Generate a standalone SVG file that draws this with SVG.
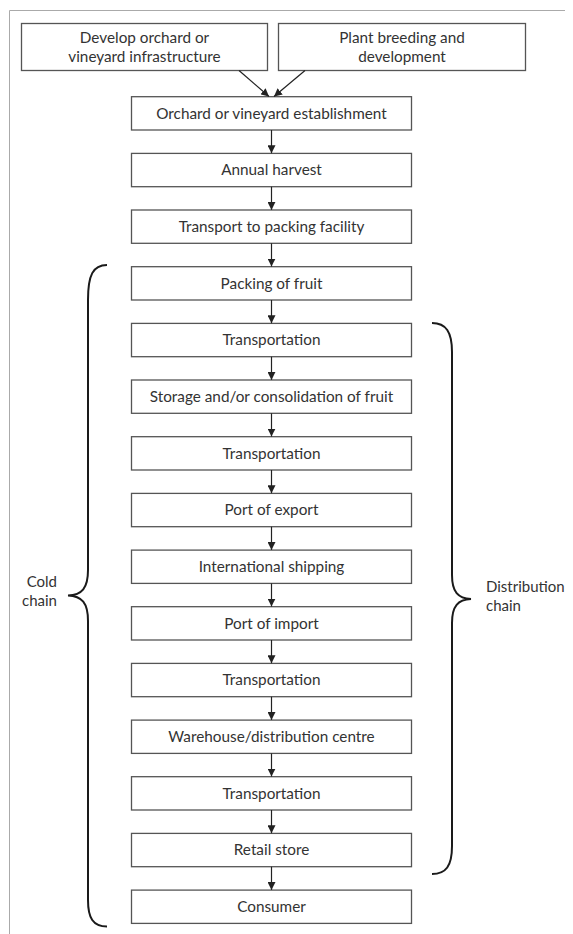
<svg xmlns="http://www.w3.org/2000/svg" width="573" height="934" viewBox="0 0 573 934">
  <style>
    .box { fill: #fff; stroke: #555; stroke-width: 1.3; }
    .lbl { font-family: Lato, "Open Sans", sans-serif; font-size: 15.3px; fill: #333; text-anchor: middle; }
    .side { font-family: Lato, "Open Sans", sans-serif; font-size: 15px; fill: #333; }
    .edge { stroke: #222; stroke-width: 1.2; fill: none; marker-end: url(#arrow); }
    .brace { stroke: #1a1a1a; stroke-width: 2; fill: none; }
    .frame { stroke: #aaa; stroke-width: 1; fill: none; }
  </style>
  <defs>
    <marker id="arrow" viewBox="0 0 10 10" refX="10" refY="5" markerWidth="8" markerHeight="8" markerUnits="userSpaceOnUse" orient="auto">
      <path d="M0,0 L10,5 L0,10 Z" fill="#222"/>
    </marker>
  </defs>
  <rect width="573" height="934" fill="#fff"/>
  <!-- page frame -->
  <path class="frame" d="M9.5,934 V10.5 H565"/>

  <!-- inputs -->
  <g id="n-infra">
    <rect class="box" x="21.5" y="23.5" width="246" height="47"/>
    <text class="lbl" x="144.5" y="43.3">Develop orchard or</text>
    <text class="lbl" x="144.5" y="62.3">vineyard infrastructure</text>
  </g>
  <g id="n-breeding">
    <rect class="box" x="278.5" y="23.5" width="247" height="47"/>
    <text class="lbl" x="402" y="43.3">Plant breeding and</text>
    <text class="lbl" x="402" y="62.3">development</text>
  </g>

  <!-- main sequence -->
  <g id="n-establish"><rect class="box" x="131.5" y="96.7" width="280" height="33.3"/><text class="lbl" x="271.5" y="118.7">Orchard or vineyard establishment</text></g>
  <g id="n-harvest"><rect class="box" x="131.5" y="153.4" width="280" height="33.3"/><text class="lbl" x="271.5" y="175.4">Annual harvest</text></g>
  <g id="n-transport-pack"><rect class="box" x="131.5" y="210" width="280" height="33.3"/><text class="lbl" x="271.5" y="232">Transport to packing facility</text></g>
  <g id="n-packing"><rect class="box" x="131.5" y="266.7" width="280" height="33.3"/><text class="lbl" x="271.5" y="288.7">Packing of fruit</text></g>
  <g id="n-transport1"><rect class="box" x="131.5" y="323.4" width="280" height="33.3"/><text class="lbl" x="271.5" y="345.4">Transportation</text></g>
  <g id="n-storage"><rect class="box" x="131.5" y="380" width="280" height="33.3"/><text class="lbl" x="271.5" y="402">Storage and/or consolidation of fruit</text></g>
  <g id="n-transport2"><rect class="box" x="131.5" y="436.7" width="280" height="33.3"/><text class="lbl" x="271.5" y="458.7">Transportation</text></g>
  <g id="n-export"><rect class="box" x="131.5" y="493.4" width="280" height="33.3"/><text class="lbl" x="271.5" y="515.4">Port of export</text></g>
  <g id="n-shipping"><rect class="box" x="131.5" y="550.1" width="280" height="33.3"/><text class="lbl" x="271.5" y="572.1">International shipping</text></g>
  <g id="n-import"><rect class="box" x="131.5" y="606.7" width="280" height="33.3"/><text class="lbl" x="271.5" y="628.7">Port of import</text></g>
  <g id="n-transport3"><rect class="box" x="131.5" y="663.4" width="280" height="33.3"/><text class="lbl" x="271.5" y="685.4">Transportation</text></g>
  <g id="n-warehouse"><rect class="box" x="131.5" y="720.1" width="280" height="33.3"/><text class="lbl" x="271.5" y="742.1">Warehouse/distribution centre</text></g>
  <g id="n-transport4"><rect class="box" x="131.5" y="776.7" width="280" height="33.3"/><text class="lbl" x="271.5" y="798.7">Transportation</text></g>
  <g id="n-retail"><rect class="box" x="131.5" y="833.4" width="280" height="33.3"/><text class="lbl" x="271.5" y="855.4">Retail store</text></g>
  <g id="n-consumer"><rect class="box" x="131.5" y="890.1" width="280" height="33.3"/><text class="lbl" x="271.5" y="912.1">Consumer</text></g>

  <!-- connectors -->
  <g id="edges">
    <path class="edge" d="M239,70.5 L269,96.5"/>
    <path class="edge" d="M305,70.5 L274,96.5"/>
    <path class="edge" d="M271.5,130 V153.3"/>
    <path class="edge" d="M271.5,186.7 V209.9"/>
    <path class="edge" d="M271.5,243.3 V266.6"/>
    <path class="edge" d="M271.5,300 V323.3"/>
    <path class="edge" d="M271.5,356.7 V379.9"/>
    <path class="edge" d="M271.5,413.3 V436.6"/>
    <path class="edge" d="M271.5,470 V493.3"/>
    <path class="edge" d="M271.5,526.7 V550"/>
    <path class="edge" d="M271.5,583.4 V606.6"/>
    <path class="edge" d="M271.5,640 V663.3"/>
    <path class="edge" d="M271.5,696.7 V720"/>
    <path class="edge" d="M271.5,753.4 V776.6"/>
    <path class="edge" d="M271.5,810 V833.3"/>
    <path class="edge" d="M271.5,866.7 V890"/>
  </g>

  <!-- cold chain brace -->
  <g id="cold-chain">
    <path class="brace" d="M107,265 C93,265 88,275 88,300 V570 C88,588 82,595 68,595.5 C82,596 88,603 88,621 V900 C88,918 93,926.5 107,926.5"/>
    <text class="side" x="57" y="587" text-anchor="end">Cold</text>
    <text class="side" x="57" y="606" text-anchor="end">chain</text>
  </g>

  <!-- distribution chain brace -->
  <g id="distribution-chain">
    <path class="brace" d="M432,323 C446,323 452,332 452,352 V575 C452,592 458,598.5 471,599 C458,599.5 452,606 452,623 V846 C452,866 446,874 432,874"/>
    <text class="side" x="486" y="592">Distribution</text>
    <text class="side" x="486" y="611">chain</text>
  </g>
</svg>
